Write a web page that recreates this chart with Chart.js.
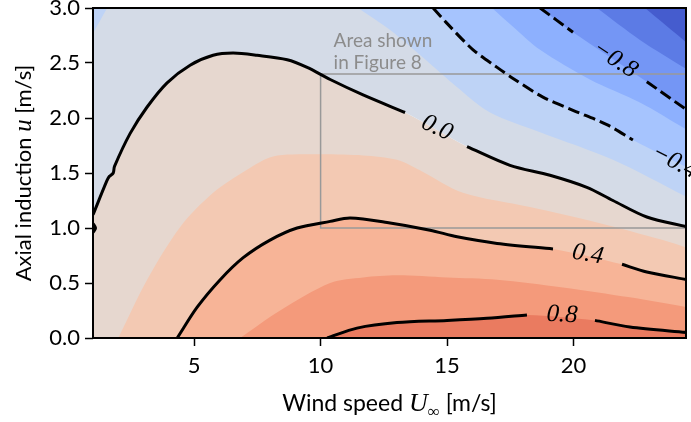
<!DOCTYPE html>
<html>
<head>
<meta charset="utf-8">
<script src="https://cdn.jsdelivr.net/npm/chart.js@4.4.1/dist/chart.umd.min.js"></script>
<style>
  html, body { margin: 0; padding: 0; background: #fff; }
  #wrap { width: 691px; height: 422px; }
</style>
</head>
<body>
<div id="wrap"><canvas id="chart" width="691" height="422"></canvas></div>
<script>
// Axis ticks
const xTicks = [5, 10, 15, 20];
const yTicks = [0, 0.5, 1.0, 1.5, 2.0, 2.5, 3.0];

// Contour edges, [wind speed, induction]
const edgeP00 = [[1.0,1.12],[1.55,1.43],[1.65,1.47],[1.80,1.50],[1.85,1.56],[2.47,1.86],[3.14,2.10],[3.93,2.32],[4.84,2.48],[5.75,2.57],[6.54,2.59],[7.49,2.57],[8.68,2.53],[9.47,2.46],[10.38,2.35],[11.68,2.21],[13.34,2.05],[15.79,1.74],[17.49,1.57],[19.07,1.48],[20.53,1.37],[21.56,1.25],[22.9,1.10],[24.5,1.01]];
const edgeP00Dot = [[1.0,0.96],[1.1,1.0],[1.0,1.04]];
const edgeP02 = [[2.0,0],[3.14,0.53],[4.45,1.01],[5.75,1.32],[7.09,1.53],[8.12,1.65],[9.7,1.67],[11.68,1.66],[13.02,1.62],[14.05,1.51],[15.63,1.32],[18.28,1.19],[20.93,1.05],[23.54,0.89],[24.5,0.82]];
const edgeP04 = [[4.33,0],[5.12,0.28],[6.03,0.53],[6.94,0.73],[8.0,0.89],[9.07,1.0],[10.38,1.06],[11.17,1.09],[12.63,1.05],[14.33,0.98],[15.4,0.92],[16.98,0.86],[19.19,0.81],[21.92,0.67],[22.9,0.60],[24.5,0.53]];
const edgeP06 = [[6.82,0],[8.4,0.25],[10.38,0.50],[11.68,0.55],[13.02,0.57],[15.0,0.55],[16.98,0.53],[19.58,0.46],[22.23,0.37],[24.5,0.28]];
const edgeP08 = [[10.26,0],[11.44,0.09],[13.02,0.14],[15.0,0.16],[16.58,0.18],[18.16,0.21],[20.85,0.16],[22.23,0.10],[24.5,0.05]];
const edgeM02Corner = [[1.0,2.77],[1.56,3.0]];
const edgeM02 = [[11.48,3.0],[12.75,2.8],[14.05,2.55],[15.4,2.28],[16.7,2.05],[18.68,1.87],[21.56,1.62],[24.5,1.28]];
const edgeM04 = [[14.45,3.0],[15.0,2.86],[16.03,2.62],[16.98,2.46],[17.61,2.36],[18.79,2.19],[19.98,2.07],[21.32,1.94],[22.35,1.80],[24.5,1.55]];
const edgeM06 = [[16.78,3.0],[17.61,2.83],[18.68,2.62],[20.65,2.35],[22.63,2.14],[24.5,1.89]];
const edgeM08 = [[18.68,3.0],[19.98,2.78],[22.9,2.33],[24.5,2.07]];
const edgeM10 = [[20.93,3.0],[22.63,2.71],[24.5,2.44]];
const edgeM12 = [[22.83,3.0],[24.5,2.68]];

// Inline contour labels
const labelText = ['0.0', '0.4', '0.8', '\u22120.8', '\u22120.4'];
const labelX = [14.6, 20.57, 19.55, 21.64, 24.0];
const labelY = [1.91, 0.76, 0.21, 2.53, 1.60];
const labelAngle = [25, 10, 3, 33, 27];

// "Area shown in Figure 8" box
const boxX = [10, 25];
const boxY = [1.0, 2.4];

const sans = 'Lato, "Noto Sans", sans-serif';
const serif = '"Liberation Serif", "DejaVu Serif", serif';
const smooth = 0.3;

const pts = a => a.map(p => ({ x: p[0], y: p[1] }));

// break a contour line where its label sits
const withGap = (a, gx) => {
    const out = [];
    let done = false;
    a.forEach(p => {
        if (!done && gx !== null && p[0] > gx) {
            out.push({ x: gx, y: null });
            done = true;
        }
        out.push({ x: p[0], y: p[1] });
    });
    return out;
};

// band fills, drawn bottom to top
const bands = [
    { edge: edgeP00, fill: 'start', color: '#e6d7cf' },
    { edge: edgeP00, fill: 'end', color: '#d4dbe7' },
    { edge: edgeM02Corner, fill: 'end', color: '#bed3f6' },
    { edge: edgeM02, fill: 'end', color: '#bed3f6' },
    { edge: edgeM04, fill: 'end', color: '#a6c4fe' },
    { edge: edgeM06, fill: 'end', color: '#8db0fe' },
    { edge: edgeM08, fill: 'end', color: '#7496f5' },
    { edge: edgeM10, fill: 'end', color: '#5c7be5' },
    { edge: edgeM12, fill: 'end', color: '#455cce' },
    { edge: edgeP02, fill: 'start', color: '#f3c9b3' },
    { edge: edgeP04, fill: 'start', color: '#f7b497' },
    { edge: edgeP06, fill: 'start', color: '#f49a7b' },
    { edge: edgeP08, fill: 'start', color: '#ea7b60' }
];

// black contour lines
const lines = [
    { edge: edgeP00, gap: labelX[0], dash: [] },
    { edge: edgeP00Dot, gap: null, dash: [] },
    { edge: edgeP04, gap: labelX[1], dash: [] },
    { edge: edgeP08, gap: labelX[2], dash: [] },
    { edge: edgeM08, gap: labelX[3], dash: [12, 5] },
    { edge: edgeM04, gap: labelX[4], dash: [12, 5] }
];

const datasets = [];
bands.forEach((b, i) => {
    datasets.push({
        data: pts(b.edge),
        showLine: true,
        fill: b.fill,
        tension: smooth,
        backgroundColor: b.color,
        borderWidth: 0,
        borderColor: 'rgba(0,0,0,0)',
        pointRadius: 0,
        order: 100 - i
    });
});

datasets.push({
    data: [{ x: boxX[1], y: boxY[0] }, { x: boxX[0], y: boxY[0] }, { x: boxX[0], y: boxY[1] }, { x: boxX[1], y: boxY[1] }],
    showLine: true,
    fill: false,
    borderColor: '#999999',
    borderWidth: 1.5,
    pointRadius: 0,
    order: 20
});

lines.forEach(l => {
    datasets.push({
        data: withGap(l.edge, l.gap),
        showLine: true,
        spanGaps: false,
        fill: false,
        tension: smooth,
        borderColor: '#000',
        borderWidth: 3,
        borderDash: l.dash,
        borderCapStyle: 'butt',
        pointRadius: 0,
        order: 10
    });
});

const decor = {
    id: 'decor',
    afterDatasetsDraw(chart) {
        const ctx = chart.ctx;
        const xs = chart.scales.x, ys = chart.scales.y;
        const a = chart.chartArea;

        // contour labels
        ctx.save();
        ctx.fillStyle = '#000';
        ctx.font = 'italic 25px ' + serif;
        ctx.textAlign = 'center';
        ctx.textBaseline = 'middle';
        labelText.forEach((t, i) => {
            ctx.save();
            ctx.translate(xs.getPixelForValue(labelX[i]), ys.getPixelForValue(labelY[i]));
            ctx.rotate(labelAngle[i] * Math.PI / 180);
            ctx.fillText(t, 0, 0);
            ctx.restore();
        });
        ctx.restore();

        // note above the box
        ctx.save();
        ctx.fillStyle = '#8c8c8c';
        ctx.font = '19px ' + sans;
        ctx.textAlign = 'left';
        ctx.textBaseline = 'alphabetic';
        const bx = xs.getPixelForValue(boxX[0]) + 13;
        const by = ys.getPixelForValue(boxY[1]);
        ctx.fillText('Area shown', bx, by - 27);
        ctx.fillText('in Figure 8', bx, by - 5);
        ctx.restore();

        // frame
        ctx.save();
        ctx.strokeStyle = '#000';
        ctx.lineWidth = 2;
        ctx.strokeRect(a.left, a.top, a.right - a.left, a.bottom - a.top);
        ctx.restore();
    },
    afterDraw(chart) {
        const ctx = chart.ctx;
        const a = chart.chartArea;
        ctx.save();
        ctx.fillStyle = '#000';
        ctx.textBaseline = 'alphabetic';
        ctx.textAlign = 'left';

        // x title: Wind speed U_inf [m/s]
        const px = [
            { t: 'Wind speed ', f: '23px ' + sans, dy: 0 },
            { t: 'U', f: 'italic 26px ' + serif, dy: 0 },
            { t: '\u221e', f: '17px ' + serif, dy: 6 },
            { t: ' [m/s]', f: '23px ' + sans, dy: 0 }
        ];
        let w = 0;
        px.forEach(p => { ctx.font = p.f; w += ctx.measureText(p.t).width; });
        let x0 = (a.left + a.right) / 2 - w / 2;
        px.forEach(p => {
            ctx.font = p.f;
            ctx.fillText(p.t, x0, 411 + p.dy);
            x0 += ctx.measureText(p.t).width;
        });

        // y title: Axial induction u [m/s]
        const py = [
            { t: 'Axial induction ', f: '22px ' + sans },
            { t: 'u', f: 'italic 25px ' + serif },
            { t: ' [m/s]', f: '22px ' + sans }
        ];
        w = 0;
        py.forEach(p => { ctx.font = p.f; w += ctx.measureText(p.t).width; });
        ctx.translate(31, (a.top + a.bottom) / 2);
        ctx.rotate(-Math.PI / 2);
        let y0 = -w / 2;
        py.forEach(p => {
            ctx.font = p.f;
            ctx.fillText(p.t, y0, 0);
            y0 += ctx.measureText(p.t).width;
        });
        ctx.restore();
    }
};

const tickFont = { family: sans, size: 22 };

new Chart(document.getElementById('chart'), {
    type: 'scatter',
    data: { datasets: datasets },
    options: {
        responsive: false,
        animation: false,
        events: [],
        layout: { padding: { left: 0, top: 8, right: 5, bottom: 0 } },
        plugins: { legend: { display: false }, tooltip: { enabled: false } },
        scales: {
            x: {
                type: 'linear',
                min: 1,
                max: 24.45,
                afterBuildTicks: s => { s.ticks = xTicks.map(v => ({ value: v })); },
                afterFit: s => { s.height = 84; s.paddingLeft = 0; s.paddingRight = 0; },
                ticks: { font: tickFont, color: '#000', padding: 7, maxRotation: 0, callback: v => String(v) },
                grid: { display: true, drawOnChartArea: false, drawTicks: true, tickLength: 8, tickWidth: 1.5, tickColor: '#000' },
                border: { display: false }
            },
            y: {
                type: 'linear',
                min: 0,
                max: 3,
                afterBuildTicks: s => { s.ticks = yTicks.map(v => ({ value: v })); },
                afterFit: s => { s.width = 93; s.paddingTop = 0; s.paddingBottom = 0; },
                ticks: { font: tickFont, color: '#000', padding: 5, callback: v => v.toFixed(1) },
                grid: { display: true, drawOnChartArea: false, drawTicks: true, tickLength: 8, tickWidth: 1.5, tickColor: '#000' },
                border: { display: false }
            }
        }
    },
    plugins: [decor]
});
</script>
</body>
</html>
